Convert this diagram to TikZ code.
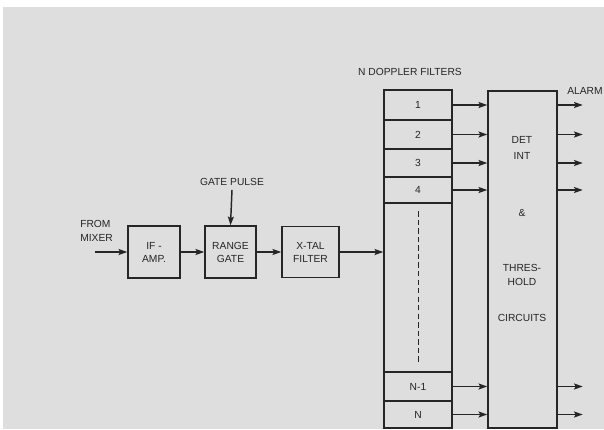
\documentclass[tikz,border=0pt]{standalone}
\usepackage{fontspec}
\setmainfont{Liberation Sans}
\usepackage{tikz}
\usetikzlibrary{arrows.meta}

\begin{document}
\begin{tikzpicture}[
  x=0.75pt, y=-0.75pt,
  box/.style={draw=black!85, line width=1.1pt, inner sep=0pt, align=center,
              font=\fontsize{7.7}{9.8}\selectfont, text=black!85},
  cell/.style={box, minimum width=51pt},
  lbl/.style={font=\fontsize{7.7}{10}\selectfont, text=black!85, inner sep=0pt},
  arrow/.style={-{Stealth[length=6.5pt, width=4.5pt, inset=1.2pt]}, line width=1.1pt, draw=black!85},
]
  % Page and paper
  \useasboundingbox (0,0) rectangle (604,429);
  \fill[white] (0,0) rectangle (604,429);
  \fill[black!13] (3,7) rectangle (604,429);

  % Input chain
  \coordinate (mixer) at (95,252);
  \node[lbl, align=left, anchor=west] (frommix) at (80,231) {FROM\\MIXER};
  \node[box, minimum width=39pt, minimum height=39pt]    (ifamp) at (154,252)   {IF -\\AMP.};
  \node[box, minimum width=38.3pt, minimum height=39pt]  (rgate) at (230.5,252) {RANGE\\GATE};
  \node[box, minimum width=42.8pt, minimum height=38.3pt] (xtal) at (310.5,252) {X-TAL\\FILTER};
  \node[lbl] (gpulse) at (232,182) {GATE PULSE};

  % Doppler filter bank
  \node[lbl] (nfilt) at (410,72) {N DOPPLER FILTERS};
  \node[cell, minimum height=22.5pt]  (f1)   at (418,105)   {1};
  \node[cell, minimum height=21.75pt] (f2)   at (418,134.5) {2};
  \node[cell, minimum height=21pt]    (f3)   at (418,163)   {3};
  \node[cell, minimum height=19.5pt]  (f4)   at (418,190)   {4};
  \node[cell, minimum height=126.75pt] (fmid) at (418,287.5) {};
  \node[cell, minimum height=21.75pt] (fn1)  at (418,386.5) {N-1};
  \node[cell, minimum height=20.25pt] (fn)   at (418,414.5) {N};
  \draw[black!85, line width=0.7pt, dash pattern=on 4pt off 2.4pt]
    ([yshift=-6.75pt]fmid.north) -- ([yshift=7.5pt]fmid.south);

  % Detector / integrator / threshold block
  \node[box, minimum width=51.75pt, minimum height=252.75pt] (det) at (522.5,259.5) {};
  \node[lbl, align=center, font=\fontsize{7.7}{12.5}\selectfont] (detint) at (522,148) {DET\\INT};
  \node[lbl] (amp) at (522,213) {\&};
  \node[lbl, align=center, font=\fontsize{7.7}{10.5}\selectfont] (thres) at (522,275) {THRES-\\HOLD};
  \node[lbl] (circ) at (522,318) {CIRCUITS};
  \node[lbl, anchor=west] (alarm) at (567,91) {ALARM};

  % Signal path
  \draw[arrow] (mixer) -- (ifamp.west);
  \draw[arrow] (ifamp.east) -- (rgate.west);
  \draw[arrow] (rgate.east) -- (xtal.west);
  \draw[arrow] ([yshift=-3pt]gpulse.south) -- (rgate.north);
  \draw[arrow] (xtal.east) -- (xtal.east -| fmid.west);

  % Filter outputs into detector, and alarm outputs
  \foreach \f in {f1,f2,f3,f4,fn1,fn} {
    \draw[arrow] (\f.east) -- (\f.east -| det.west);
    \draw[arrow] (\f.east -| det.east) -- ++(25,0);
  }
\end{tikzpicture}
\end{document}
